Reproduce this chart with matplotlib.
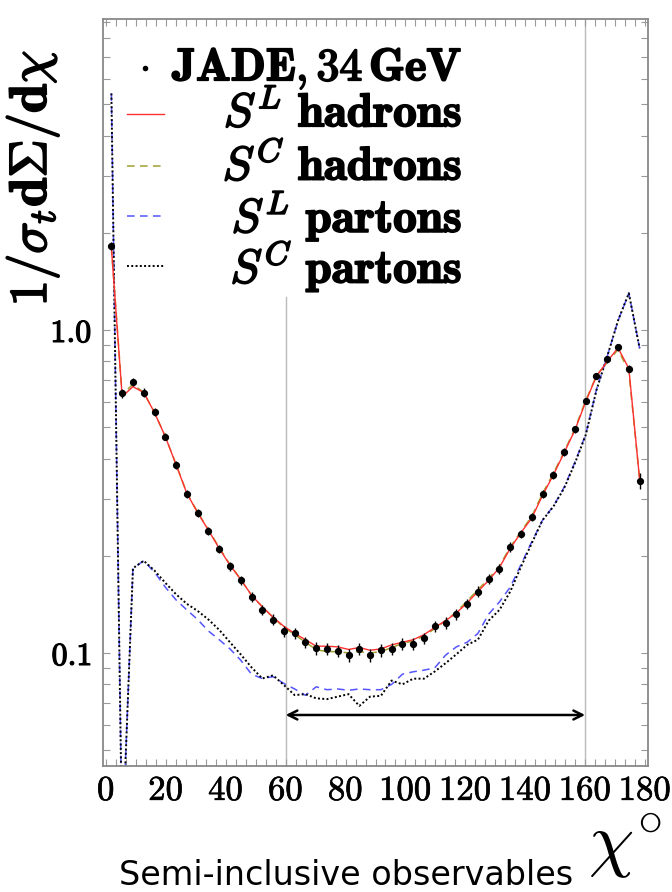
import numpy as np
import matplotlib
matplotlib.use('Agg')
import matplotlib.pyplot as plt
from matplotlib import patheffects as pe
from matplotlib.ticker import FixedLocator, FixedFormatter, MultipleLocator, LogLocator, NullFormatter

plt.rcParams['mathtext.fontset'] = 'cm'

# bin centres of the 3.6 degree bins
chi = [1.8, 5.4, 9.0, 12.6, 16.2, 19.8, 23.4, 27.0, 30.6, 34.2,
       37.8, 41.4, 45.0, 48.6, 52.2, 55.8, 59.4, 63.0, 66.6, 70.2,
       73.8, 77.4, 81.0, 84.6, 88.2, 91.8, 95.4, 99.0, 102.6, 106.2,
       109.8, 113.4, 117.0, 120.6, 124.2, 127.8, 131.4, 135.0, 138.6, 142.2,
       145.8, 149.4, 153.0, 156.6, 160.2, 163.8, 167.4, 171.0, 174.6, 178.2]

# JADE 34 GeV data
jade = [1.82, 0.637, 0.689, 0.640, 0.557, 0.467, 0.382, 0.311, 0.271, 0.239,
        0.210, 0.186, 0.168, 0.149, 0.136, 0.127, 0.117, 0.115, 0.108, 0.1034,
        0.103, 0.1017, 0.0986, 0.103, 0.0984, 0.102, 0.103, 0.107, 0.107, 0.111,
        0.121, 0.124, 0.132, 0.142, 0.155, 0.170, 0.182, 0.213, 0.234, 0.264,
        0.311, 0.356, 0.419, 0.493, 0.604, 0.722, 0.811, 0.884, 0.759, 0.341]
jade_err = [0.05, 0.02, 0.02, 0.02, 0.015, 0.012, 0.01, 0.009, 0.008, 0.007,
            0.006, 0.006, 0.005, 0.005, 0.005, 0.005, 0.0045, 0.0045, 0.0045, 0.0045,
            0.0045, 0.0045, 0.0045, 0.0045, 0.0045, 0.0045, 0.0045, 0.0045, 0.0045, 0.0045,
            0.005, 0.005, 0.005, 0.005, 0.006, 0.006, 0.006, 0.007, 0.007, 0.008,
            0.009, 0.01, 0.011, 0.012, 0.014, 0.016, 0.018, 0.02, 0.02, 0.02]

sl_had = [1.80, 0.622, 0.668, 0.640, 0.555, 0.468, 0.383, 0.312, 0.272, 0.240,
          0.211, 0.187, 0.169, 0.151, 0.139, 0.129, 0.121, 0.115, 0.110, 0.105,
          0.105, 0.1045, 0.1026, 0.104, 0.102, 0.103, 0.106, 0.108, 0.110, 0.114,
          0.120, 0.126, 0.133, 0.143, 0.155, 0.168, 0.184, 0.211, 0.236, 0.262,
          0.308, 0.356, 0.417, 0.490, 0.600, 0.720, 0.800, 0.880, 0.760, 0.345]
sc_had = [1.80, 0.630, 0.680, 0.640, 0.556, 0.468, 0.384, 0.313, 0.273, 0.241,
          0.212, 0.188, 0.169, 0.151, 0.139, 0.129, 0.120, 0.114, 0.108, 0.1025,
          0.101, 0.101, 0.100, 0.101, 0.100, 0.101, 0.104, 0.107, 0.109, 0.113,
          0.119, 0.126, 0.134, 0.145, 0.157, 0.170, 0.186, 0.213, 0.238, 0.265,
          0.312, 0.360, 0.420, 0.495, 0.605, 0.722, 0.795, 0.870, 0.745, 0.345]

sl_part = [5.4, 0.025, 0.183, 0.193, 0.178, 0.160, 0.146, 0.136, 0.127, 0.117,
           0.110, 0.103, 0.095, 0.086, 0.0834, 0.0845, 0.0805, 0.0774, 0.0740, 0.0786,
           0.0770, 0.0774, 0.0767, 0.0774, 0.0770, 0.0770, 0.0800, 0.0860, 0.0875, 0.0885,
           0.0900, 0.0985, 0.1045, 0.108, 0.115, 0.132, 0.144, 0.160, 0.188, 0.221,
           0.258, 0.285, 0.326, 0.390, 0.475, 0.655, 0.83, 1.07, 1.30, 0.878]
sc_part = [5.4, 0.025, 0.183, 0.193, 0.180, 0.165, 0.152, 0.142, 0.135, 0.127,
           0.118, 0.108, 0.099, 0.0903, 0.0834, 0.0853, 0.0796, 0.0741, 0.0746, 0.0724,
           0.0720, 0.0733, 0.0746, 0.0686, 0.0733, 0.0737, 0.0822, 0.0800, 0.0833, 0.0833,
           0.0877, 0.0930, 0.0991, 0.106, 0.110, 0.126, 0.136, 0.155, 0.185, 0.219,
           0.258, 0.284, 0.324, 0.387, 0.473, 0.652, 0.83, 1.07, 1.30, 0.878]

labels = [r'$\mathbf{JADE,34\,GeV}$',
          r'$S^{L}\ \mathbf{hadrons}$',
          r'$S^{C}\ \mathbf{hadrons}$',
          r'$S^{L}\ \mathbf{partons}$',
          r'$S^{C}\ \mathbf{partons}$']

bold = [pe.withStroke(linewidth=1.3, foreground='black')]

fig = plt.figure(figsize=(6.72, 8.92), dpi=100)
ax = fig.add_axes([103/672, 1-766/892, 545/672, 747/892])

ax.axvline(60, ymax=0.628, color='#bbbbbb', lw=1, zorder=0)
ax.axvline(160, color='#bbbbbb', lw=1, zorder=0)

ax.plot(chi, sl_part, color='#5555ff', lw=1.1, dashes=(5, 3.5))
ax.plot(chi, sc_part, color='black', lw=1.4, dashes=(1, 1.2))
ax.plot(chi, sc_had, color='#a0a030', lw=1.1, dashes=(5, 3.5))
ax.plot(chi, sl_had, color='#ff3030', lw=1.0)
ax.errorbar(chi, jade, yerr=jade_err, fmt='o', color='black', ms=4.2,
            elinewidth=1.0, capsize=0, zorder=5)

ax.annotate('', xy=(60, 0.0643), xytext=(160, 0.0643),
            arrowprops=dict(arrowstyle='<->', lw=1.8, color='black',
                            mutation_scale=16, shrinkA=0, shrinkB=0))

ax.set_yscale('log')
ax.set_xlim(-1, 181)
ax.set_ylim(0.0447, 9.18)

ax.xaxis.set_major_locator(FixedLocator([0, 20, 40, 60, 80, 100, 120, 140, 160, 180]))
ax.xaxis.set_major_formatter(FixedFormatter([r'$%d$' % v for v in range(0, 181, 20)]))
ax.xaxis.set_minor_locator(MultipleLocator(20/6))
ax.yaxis.set_major_locator(FixedLocator([0.1, 1.0]))
ax.yaxis.set_major_formatter(FixedFormatter([r'$\mathbf{0.1}$', r'$\mathbf{1.0}$']))
ax.yaxis.set_minor_locator(LogLocator(base=10, subs=range(2, 10), numticks=20))
ax.yaxis.set_minor_formatter(NullFormatter())

ax.tick_params(which='both', direction='in', top=True, right=True,
               color='#999999', width=0.8, length=5)
ax.tick_params(axis='x', labelsize=25, pad=5)
ax.tick_params(axis='y', labelsize=23, pad=8)
for t in ax.get_yticklabels():
    t.set_path_effects([pe.withStroke(linewidth=0.9, foreground='black')])
for t in ax.get_xticklabels():
    t.set_path_effects([pe.withStroke(linewidth=0.5, foreground='black')])
for s in ax.spines.values():
    s.set_color('#888888')
    s.set_linewidth(1.3)

# legend, text right aligned
rows = [0.934, 0.873, 0.803, 0.736, 0.669]
ax.plot([0.077], [rows[0]], 'o', color='black', ms=3, transform=ax.transAxes)
hx = [0.044, 0.112]
ax.plot(hx, [rows[1]]*2, color='#ff3030', lw=1.0, transform=ax.transAxes)
ax.plot(hx, [rows[2]]*2, color='#a0a030', lw=1.1, dashes=(5, 3.5), transform=ax.transAxes)
ax.plot(hx, [rows[3]]*2, color='#5555ff', lw=1.1, dashes=(5, 3.5), transform=ax.transAxes)
ax.plot(hx, [rows[4]]*2, color='black', lw=1.4, dashes=(1, 1.2), transform=ax.transAxes)
for r, lab in zip(rows, labels):
    ax.text(0.659, r, lab, transform=ax.transAxes, ha='right', va='center',
            fontsize=33 if lab.startswith(r'$\mathbf{J') else 34, path_effects=bold)

fig.text(0.049, 0.80, r'$\mathbf{1/}\sigma_t\mathbf{d}\Sigma\mathbf{/d}\chi$',
         rotation=90, ha='center', va='center', fontsize=38, path_effects=bold)
fig.text(0.93, 0.052, r'$\chi^{\circ}$', ha='center', va='center', fontsize=52)
fig.text(0.515, 0.018, 'Semi-inclusive observables', ha='center', va='center',
         fontsize=24, family='DejaVu Sans')

fig.savefig('out.png', dpi=100)
